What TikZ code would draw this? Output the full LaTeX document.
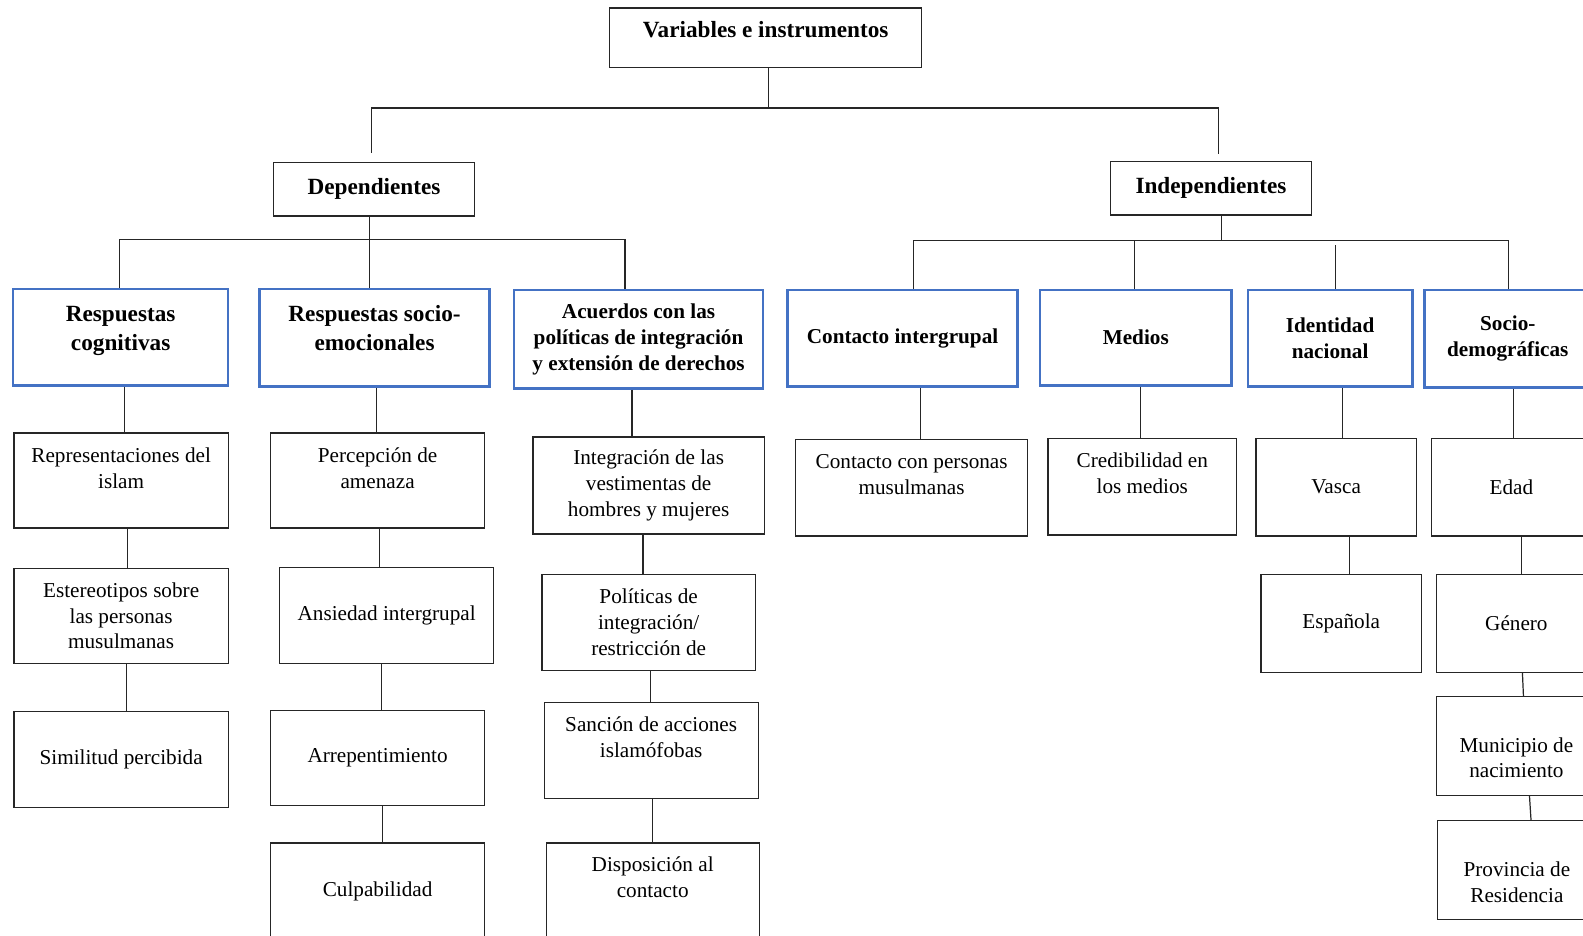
\documentclass[tikz,border=0pt]{standalone}
\usepackage{fontspec}
\setmainfont{Liberation Serif}
\usepackage{tikz}
\definecolor{boxblue}{RGB}{68,114,196}
\begin{document}
\begin{tikzpicture}[x=1pt,y=-1pt,
	cell/.style={draw=black!85,line width=1.3pt,inner sep=0pt,align=center,font=\fontsize{21}{25.5}\selectfont},
	head/.style={cell,font=\bfseries\fontsize{23}{29}\selectfont},
	group/.style={cell,draw=boxblue,line width=2.4pt,font=\bfseries\fontsize{21}{25.5}\selectfont},
	biggroup/.style={group,font=\bfseries\fontsize{23}{29}\selectfont},
	link/.style={draw=black!85,line width=1.2pt}]
	\useasboundingbox[fill=white] (0,0) rectangle (1568,927);

	\node[head,minimum width=309pt,text height=29pt,text depth=30pt] (vars) at (758.5,37.5) {Variables e instrumentos};
	\node[head,minimum width=199pt,minimum height=53pt] (dep) at (370.5,187.5) {Dependientes};
	\node[head,minimum width=199pt,minimum height=53pt] (ind) at (1199.5,186.5) {Independientes};

	\node[biggroup,minimum width=213pt,text height=61pt,text depth=35pt] (cog) at (119.5,334) {Respuestas\\cognitivas};
	\node[biggroup,minimum width=228pt,text height=61pt,text depth=36pt] (semo) at (371,334.5) {Respuestas socio-\\emocionales};
	\node[group,minimum width=247pt,minimum height=98pt] (acu) at (632.5,336) {Acuerdos con las\\políticas de integración\\y extensión de derechos};
	\node[group,minimum width=228pt,minimum height=96pt] (cont) at (894,335) {Contacto intergrupal};
	\node[group,minimum width=190pt,minimum height=95pt] (med) at (1125,334.5) {Medios};
	\node[group,minimum width=163pt,minimum height=96pt] (iden) at (1317.5,335) {Identidad\\nacional};
	\node[group,minimum width=165pt,minimum height=97pt] (sdem) at (1493.5,335.5) {Socio-\\demográficas};

	\node[cell,minimum width=212pt,text height=54.5pt,text depth=39.5pt] (repr) at (120,476) {Representaciones del\\islam};
	\node[cell,minimum width=212pt,minimum height=94pt] (este) at (120,610) {Estereotipos sobre\\las personas\\musulmanas};
	\node[cell,minimum width=212pt,minimum height=95pt] (simi) at (120,752.5) {Similitud percibida};

	\node[cell,minimum width=212pt,text height=54.5pt,text depth=39.5pt] (perc) at (374,476) {Percepción de\\amenaza};
	\node[cell,minimum width=212pt,minimum height=95pt] (ansi) at (383,609.5) {Ansiedad intergrupal};
	\node[cell,minimum width=212pt,minimum height=94pt] (arre) at (374,751) {Arrepentimiento};
	\node[cell,minimum width=212pt,minimum height=95pt] (culp) at (374,882.5) {Culpabilidad};

	\node[cell,minimum width=229pt,minimum height=96pt] (inte) at (642.5,481) {Integración de las\\vestimentas de\\hombres y mujeres};
	\node[cell,minimum width=211pt,minimum height=95pt] (poli) at (642.5,616.5) {Políticas de\\integración/\\restricción de};
	\node[cell,minimum width=212pt,text height=54.5pt,text depth=40.5pt] (sanc) at (645,743.5) {Sanción de acciones\\islamófobas};
	\node[cell,minimum width=211pt,text height=53.5pt,text depth=41.5pt] (disp) at (646.5,882.5) {Disposición al\\contacto};

	\node[cell,minimum width=230pt,text height=54.5pt,text depth=41.5pt] (cper) at (903,483) {Contacto con personas\\musulmanas};
	\node[cell,minimum width=187pt,text height=54.5pt,text depth=41.5pt] (cred) at (1131.5,482) {Credibilidad en\\los medios};

	\node[cell,minimum width=159pt,minimum height=97pt] (vasc) at (1323.5,482.5) {Vasca};
	\node[cell,minimum width=159pt,minimum height=97pt] (espa) at (1328.5,617.5) {Española};

	\node[cell,minimum width=158pt,minimum height=97pt] (edad) at (1497,482.5) {Edad};
	\node[cell,minimum width=158pt,minimum height=97pt] (gene) at (1502,617.5) {Género};
	\node[cell,minimum width=158pt,text height=80.5pt,text depth=17.5pt] (muni) at (1502,739) {Municipio de\\nacimiento};
	\node[cell,minimum width=157pt,text height=80.5pt,text depth=17.5pt] (prov) at (1502.5,862) {Provincia de\\Residencia};

	\coordinate (bus) at (0,107);
	\coordinate (depbus) at (0,237);
	\coordinate (indbus) at (0,238);

	\draw[link] ([xshift=3pt]vars.south) -- ([xshift=3pt]vars.south |- bus);
	\draw[link] ([xshift=-2.5pt,yshift=9pt]dep.north) -- ([xshift=-2.5pt]dep.north |- bus) -| ([xshift=7.5pt,yshift=7pt]ind.north);

	\draw[link] ([xshift=-4.5pt]dep.south) -- ([xshift=-4.5pt]dep.south |- semo.north);
	\draw[link] ([xshift=-1.5pt]cog.north) -- ([xshift=-1.5pt]cog.north |- depbus) -| ([xshift=-13.5pt]acu.north);

	\draw[link] ([xshift=10.5pt]ind.south) -- ([xshift=10.5pt]ind.south |- indbus);
	\draw[link] ([xshift=11pt]cont.north) -- ([xshift=11pt]cont.north |- indbus) -| ([xshift=0.5pt]sdem.north);
	\draw[link] ([xshift=-1pt]med.north) -- ([xshift=-1pt]med.north |- indbus);
	\draw[link] ([xshift=5.5pt]iden.north) -- ([xshift=5.5pt,yshift=-5pt]iden.north |- indbus);

	\draw[link] ([xshift=3.5pt]cog.south) -- ([xshift=3.5pt]cog.south |- repr.north);
	\draw[link] ([xshift=6pt]repr.south) -- ([xshift=6pt]repr.south |- este.north);
	\draw[link] ([xshift=5pt]este.south) -- ([xshift=5pt]este.south |- simi.north);

	\draw[link] ([xshift=2pt]semo.south) -- ([xshift=2pt]semo.south |- perc.north);
	\draw[link] ([xshift=2pt]perc.south) -- ([xshift=2pt]perc.south |- ansi.north);
	\draw[link] ([xshift=-5pt]ansi.south) -- ([xshift=-5pt]ansi.south |- arre.north);
	\draw[link] ([xshift=5pt]arre.south) -- ([xshift=5pt]arre.south |- culp.north);

	\draw[link] ([xshift=-6.5pt]acu.south) -- ([xshift=-6.5pt]acu.south |- inte.north);
	\draw[link] ([xshift=-5.5pt]inte.south) -- ([xshift=-5.5pt]inte.south |- poli.north);
	\draw[link] ([xshift=1.5pt]poli.south) -- ([xshift=1.5pt]poli.south |- sanc.north);
	\draw[link] ([xshift=1pt]sanc.south) -- ([xshift=1pt]sanc.south |- disp.north);

	\draw[link] ([xshift=18pt]cont.south) -- ([xshift=18pt]cont.south |- cper.north);
	\draw[link] ([xshift=5pt]med.south) -- ([xshift=5pt]med.south |- cred.north);

	\draw[link] ([xshift=12.5pt]iden.south) -- ([xshift=12.5pt]iden.south |- vasc.north);
	\draw[link] ([xshift=13.5pt]vasc.south) -- ([xshift=13.5pt]vasc.south |- espa.north);

	\draw[link] ([xshift=5.5pt]sdem.south) -- ([xshift=5.5pt]sdem.south |- edad.north);
	\draw[link] ([xshift=10pt]edad.south) -- ([xshift=10pt]edad.south |- gene.north);
	\draw[link] ([xshift=6pt]gene.south) -- ([xshift=7pt]muni.north);
	\draw[link] ([xshift=13pt]muni.south) -- ([xshift=14pt]prov.north);
\end{tikzpicture}
\end{document}
